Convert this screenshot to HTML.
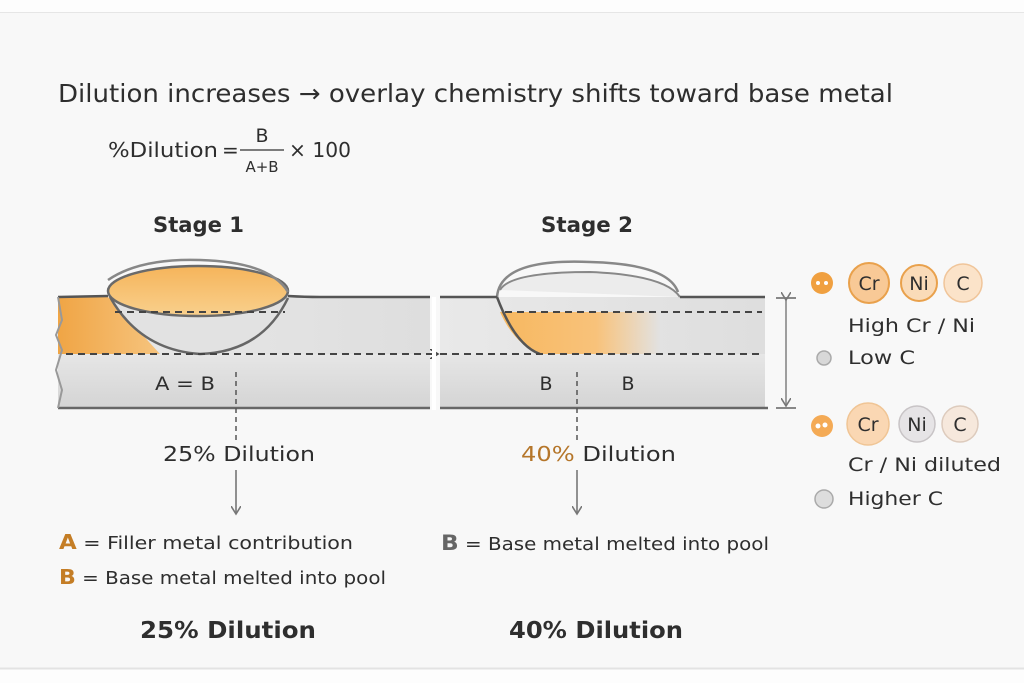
<!DOCTYPE html>
<html><head><meta charset="utf-8"><style>
html,body{margin:0;padding:0;background:#fdfdfd;}
svg{display:block;}
text{font-family:"DejaVu Sans","Liberation Sans",sans-serif;fill:#2e2e2e;}
</style></head><body>
<svg width="1024" height="683" viewBox="0 0 1024 683" xmlns="http://www.w3.org/2000/svg">
<defs>
<linearGradient id="low" x1="0" y1="0" x2="0" y2="1"><stop offset="0" stop-color="#e6e6e6"/><stop offset="1" stop-color="#d4d4d4"/></linearGradient>
<linearGradient id="up" x1="0" y1="0" x2="1" y2="0"><stop offset="0" stop-color="#e9e9e9"/><stop offset="1" stop-color="#dedede"/></linearGradient>
<linearGradient id="bead" x1="0" y1="0" x2="0" y2="1"><stop offset="0" stop-color="#f5b45a"/><stop offset="1" stop-color="#f9d08c"/></linearGradient>
<linearGradient id="or2" x1="0" y1="0" x2="1" y2="0"><stop offset="0" stop-color="#f7b860"/><stop offset="0.6" stop-color="#f8c27a"/><stop offset="1" stop-color="#f8c27a" stop-opacity="0"/></linearGradient>
<linearGradient id="orL" x1="0" y1="0" x2="1" y2="0"><stop offset="0" stop-color="#f0a545"/><stop offset="1" stop-color="#f6c47e"/></linearGradient>
<marker id="ah" markerWidth="10" markerHeight="10" refX="8" refY="5" orient="auto" markerUnits="userSpaceOnUse"><path d="M0,0 L8,5 L0,10" fill="none" stroke="#777" stroke-width="1.6"/></marker>
<marker id="ahd" markerWidth="10" markerHeight="10" refX="8" refY="5" orient="auto" markerUnits="userSpaceOnUse"><path d="M0,0 L8,5 L0,10" fill="none" stroke="#444" stroke-width="1.6"/></marker>
</defs>
<rect x="0" y="12" width="1024" height="656" fill="#f8f8f8"/>
<line x1="0" y1="12.5" x2="1024" y2="12.5" stroke="#e6e6e6"/>
<line x1="0" y1="668.5" x2="1024" y2="668.5" stroke="#e3e3e3" stroke-width="2"/>

<text x="58" y="102" font-size="25" textLength="835" lengthAdjust="spacingAndGlyphs">Dilution increases → overlay chemistry shifts toward base metal</text>
<text x="108" y="157" font-size="20" textLength="110" lengthAdjust="spacingAndGlyphs">%Dilution</text>
<text x="222" y="157" font-size="20">=</text>
<text x="262" y="142" font-size="19" text-anchor="middle">B</text>
<line x1="240" y1="150" x2="284" y2="150" stroke="#333" stroke-width="1.3"/>
<text x="262" y="172" font-size="15" text-anchor="middle">A+B</text>
<text x="289" y="157" font-size="20" textLength="62" lengthAdjust="spacingAndGlyphs">× 100</text>

<text x="153" y="232" font-size="21" font-weight="bold" textLength="91" lengthAdjust="spacingAndGlyphs">Stage 1</text>
<text x="541" y="232" font-size="21" font-weight="bold" textLength="92" lengthAdjust="spacingAndGlyphs">Stage 2</text>

<!-- Plate 1 -->
<rect x="58" y="354" width="372" height="54" fill="url(#low)"/>
<rect x="58" y="297" width="372" height="57" fill="url(#up)"/>
<path d="M58,297 L108,297 L160,354 L58,354 Z" fill="url(#orL)"/>
<path d="M110,298 Q140,350 200,354 Q260,352 288,300 Z" fill="#e2e2e2"/>
<ellipse cx="198" cy="291" rx="90" ry="25" fill="url(#bead)" stroke="#6a6a6a" stroke-width="2.5"/>
<path d="M110,297 Q140,350 200,354 Q262,352 288,298" fill="none" stroke="#666" stroke-width="2.5"/>
<path d="M108,280 Q140,258 200,260 Q270,262 288,292" fill="none" stroke="#888" stroke-width="2.5"/>
<path d="M58,297 L108,296 M288,296 Q305,297 320,297 L430,297" stroke="#555" stroke-width="2.5" fill="none"/>
<line x1="58" y1="408" x2="430" y2="408" stroke="#666" stroke-width="2.5"/>
<line x1="115" y1="312" x2="285" y2="312" stroke="#444" stroke-width="2" stroke-dasharray="7,5"/>
<line x1="66" y1="354" x2="438" y2="354" stroke="#444" stroke-width="2" stroke-dasharray="7,5" marker-end="url(#ahd)"/>
<path d="M58,297 L62,320 L56,335 L62,350 L56,370 L62,390 L58,408" fill="none" stroke="#999" stroke-width="2"/>

<!-- Plate 2 -->
<rect x="440" y="354" width="325" height="54" fill="url(#low)"/>
<rect x="440" y="297" width="325" height="57" fill="url(#up)"/>
<path d="M500,312 Q515,345 540,354 L660,354 L660,312 Z" fill="url(#or2)"/>
<path d="M497,297 Q515,345 540,354" fill="none" stroke="#555" stroke-width="2.5"/>
<path d="M497,297 Q500,258 590,262 Q668,264 678,292" fill="none" stroke="#888" stroke-width="2.5"/>
<path d="M500,290 Q510,272 590,272 Q665,275 680,297" fill="#ececec" stroke="#888" stroke-width="2"/>
<path d="M440,297 L497,297 M680,297 L765,297" stroke="#555" stroke-width="2.5" fill="none"/>
<line x1="440" y1="408" x2="768" y2="408" stroke="#666" stroke-width="2.5"/>
<line x1="505" y1="312" x2="762" y2="312" stroke="#444" stroke-width="2" stroke-dasharray="7,5"/>
<line x1="440" y1="354" x2="762" y2="354" stroke="#444" stroke-width="2" stroke-dasharray="7,5"/>
<line x1="434" y1="297" x2="434" y2="410" stroke="#fff" stroke-width="4"/>
<line x1="776" y1="298" x2="796" y2="298" stroke="#888" stroke-width="2"/>
<line x1="776" y1="408" x2="796" y2="408" stroke="#888" stroke-width="2"/>
<line x1="786" y1="300" x2="786" y2="406" stroke="#888" stroke-width="1.6" marker-end="url(#ah)" marker-start="url(#ah)"/>

<text x="155" y="390" font-size="19" textLength="60" lengthAdjust="spacingAndGlyphs">A = B</text>
<line x1="236" y1="372" x2="236" y2="440" stroke="#555" stroke-width="1.5" stroke-dasharray="5,4"/>
<text x="163" y="461" font-size="20" textLength="152" lengthAdjust="spacingAndGlyphs">25% Dilution</text>
<line x1="236" y1="470" x2="236" y2="514" stroke="#777" stroke-width="1.6" marker-end="url(#ah)"/>
<text x="546" y="390" font-size="19" text-anchor="middle">B</text>
<text x="628" y="390" font-size="19" text-anchor="middle">B</text>
<line x1="577" y1="372" x2="577" y2="440" stroke="#555" stroke-width="1.5" stroke-dasharray="5,4"/>
<text x="521" y="461" font-size="20" textLength="155" lengthAdjust="spacingAndGlyphs"><tspan fill="#b5762a">40%</tspan> Dilution</text>
<line x1="577" y1="470" x2="577" y2="514" stroke="#777" stroke-width="1.6" marker-end="url(#ah)"/>

<text x="59" y="549" font-size="18" textLength="294" lengthAdjust="spacingAndGlyphs"><tspan fill="#c47d25" font-weight="bold" font-size="20">A</tspan> = Filler metal contribution</text>
<text x="59" y="584" font-size="18" textLength="327" lengthAdjust="spacingAndGlyphs"><tspan fill="#c47d25" font-weight="bold" font-size="20">B</tspan> = Base metal melted into pool</text>
<text x="441" y="550" font-size="18" textLength="328" lengthAdjust="spacingAndGlyphs"><tspan fill="#666" font-weight="bold" font-size="21">B</tspan> = Base metal melted into pool</text>
<text x="140" y="638" font-size="23" font-weight="bold" textLength="176" lengthAdjust="spacingAndGlyphs">25% Dilution</text>
<text x="509" y="638" font-size="23" font-weight="bold" textLength="174" lengthAdjust="spacingAndGlyphs">40% Dilution</text>

<!-- right legend -->
<circle cx="822" cy="283" r="11" fill="#f0a040"/>
<circle cx="818" cy="283" r="2" fill="#fff"/><circle cx="826" cy="283" r="2" fill="#fff"/>
<circle cx="869" cy="283" r="20" fill="#f8c996" stroke="#e9a14c" stroke-width="2"/>
<text x="869" y="290" font-size="19" text-anchor="middle">Cr</text>
<circle cx="919" cy="283" r="18" fill="#fadbb8" stroke="#e9a14c" stroke-width="2"/>
<text x="919" y="290" font-size="19" text-anchor="middle">Ni</text>
<circle cx="963" cy="283" r="19" fill="#fbe3c9" stroke="#f0c59a" stroke-width="1.5"/>
<text x="963" y="290" font-size="19" text-anchor="middle">C</text>
<text x="848" y="332" font-size="19" textLength="127" lengthAdjust="spacingAndGlyphs">High Cr / Ni</text>
<circle cx="824" cy="358" r="7" fill="#d8d8d8" stroke="#aaa" stroke-width="1.5"/>
<text x="848" y="364" font-size="19" textLength="67" lengthAdjust="spacingAndGlyphs">Low C</text>

<circle cx="822" cy="426" r="11" fill="#f4aa55"/>
<circle cx="818" cy="426" r="2.5" fill="#fff"/><circle cx="825" cy="425" r="2.5" fill="#fff"/>
<circle cx="868" cy="424" r="21" fill="#fad7b3" stroke="#f0c595" stroke-width="1.5"/>
<text x="868" y="431" font-size="19" text-anchor="middle">Cr</text>
<circle cx="917" cy="424" r="18" fill="#e6e4e6" stroke="#c8c4c6" stroke-width="1.5"/>
<text x="917" y="431" font-size="19" text-anchor="middle">Ni</text>
<circle cx="960" cy="424" r="18" fill="#f6e8dc" stroke="#ddcbbd" stroke-width="1.5"/>
<text x="960" y="431" font-size="19" text-anchor="middle">C</text>
<text x="848" y="471" font-size="19" textLength="153" lengthAdjust="spacingAndGlyphs">Cr / Ni diluted</text>
<circle cx="824" cy="499" r="9" fill="#ddd" stroke="#aaa" stroke-width="1.5"/>
<text x="848" y="505" font-size="19" textLength="95" lengthAdjust="spacingAndGlyphs">Higher C</text>
</svg>
</body></html>
